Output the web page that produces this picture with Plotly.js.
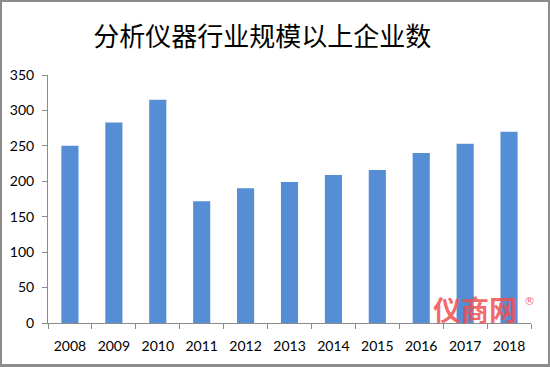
<!DOCTYPE html>
<html>
<head>
<meta charset="utf-8">
<script src="https://cdn.plot.ly/plotly-3.0.1.min.js"></script>
<style>
html,body{margin:0;padding:0;background:#fff;}
#wrap{position:relative;width:550px;height:367px;}
#chart{width:550px;height:367px;}
#frame{position:absolute;left:0;top:0;width:550px;height:367px;box-sizing:border-box;border:2px solid #8c8c8c;border-bottom-width:3px;pointer-events:none;}
</style>
</head>
<body>
<div id="wrap"><div id="chart"></div><div id="frame"></div></div>
<script>
var years = ["2008","2009","2010","2011","2012","2013","2014","2015","2016","2017","2018"];
var counts = [250, 283, 315, 172, 190, 199, 209, 216, 240, 253, 270];
var titleText = "分析仪器行业规模以上企业数";
var yTicks = [0, 50, 100, 150, 200, 250, 300, 350];

var trace = {
  type: "bar",
  x: years,
  y: counts,
  marker: {color: "#558ED5"},
  hoverinfo: "x+y"
};

var layout = {
  width: 550,
  height: 367,
  margin: {l: 47.5, r: 18.5, t: 75, b: 44, pad: 0},
  paper_bgcolor: "#ffffff",
  plot_bgcolor: "#ffffff",
  bargap: 0.61,
  showlegend: false,
  title: {
    text: titleText,
    x: 0.477, xanchor: "center",
    y: 0.9, yref: "container", yanchor: "middle",
    font: {family: "Noto Sans CJK SC", size: 26, color: "#000000"}
  },
  xaxis: {
    type: "category",
    showline: true, linecolor: "#8c8c8c", linewidth: 1,
    ticks: "outside", tickson: "boundaries", ticklen: 5, tickcolor: "#8c8c8c",
    showgrid: false, zeroline: false,
    tickfont: {family: "Lato, 'Open Sans', sans-serif", size: 14, color: "#000000"},
    ticklabelstandoff: 10
  },
  yaxis: {
    range: [0, 350],
    tickvals: yTicks,
    showline: true, linecolor: "#8c8c8c", linewidth: 1,
    ticks: "outside", ticklen: 5, tickcolor: "#8c8c8c",
    showgrid: false, zeroline: false,
    tickfont: {family: "Lato, 'Open Sans', sans-serif", size: 14, color: "#000000"},
    ticklabelstandoff: 5
  },
  annotations: [
    {
      text: "<b>仪商网</b>", xref: "paper", yref: "paper", x: 0.885, y: 0.055,
      xanchor: "center", yanchor: "middle", showarrow: false,
      font: {family: "Noto Sans CJK SC", size: 28, color: "rgba(240,80,80,0.85)"}
    },
    {
      text: "®", xref: "paper", yref: "paper", x: 0.997, y: 0.085,
      xanchor: "center", yanchor: "middle", showarrow: false,
      font: {family: "DejaVu Sans", size: 11, color: "rgba(240,80,80,0.85)"}
    }
  ]
};

Plotly.newPlot("chart", [trace], layout, {displayModeBar: false, staticPlot: true});
</script>
</body>
</html>
